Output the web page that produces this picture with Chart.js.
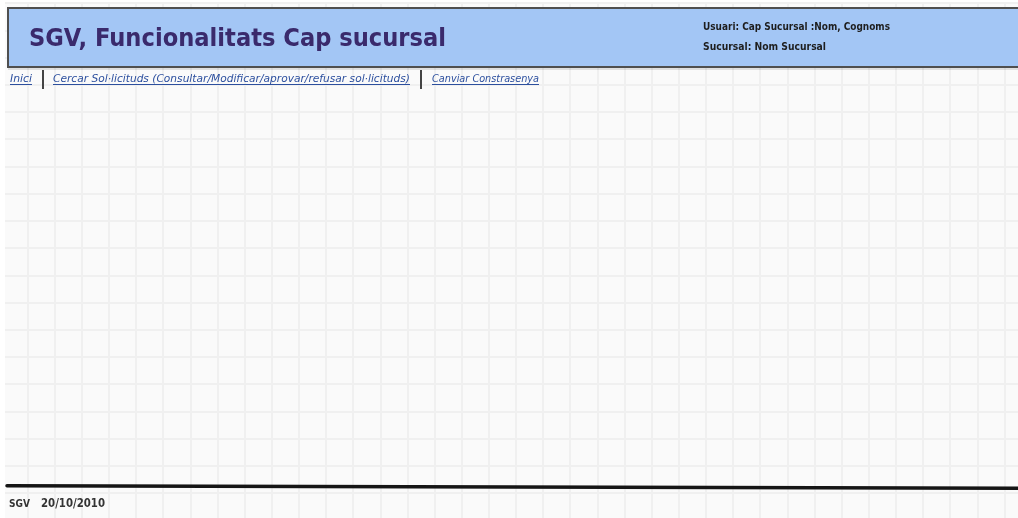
<!DOCTYPE html>
<html><head><meta charset="utf-8">
<script src="https://cdn.jsdelivr.net/npm/chart.js@4.4.0/dist/chart.umd.min.js"></script>
<style>html,body{margin:0;padding:0;background:#fff;overflow:hidden}#wrap{width:1018px;height:518px;position:relative}canvas{display:block}</style>
</head><body><div id="wrap"><canvas id="c" width="1018" height="518"></canvas></div>
<script>
// ---- content (text of the wireframe) ----
const pageTitle = 'SGV, Funcionalitats Cap sucursal';
const userInfo = ['Usuari: Cap Sucursal :Nom, Cognoms', 'Sucursal: Nom Sucursal'];
const navLinks = ['Inici', 'Cercar Sol·licituds (Consultar/Modificar/aprovar/refusar sol·licituds)', 'Canviar Constrasenya'];
const footerApp = 'SGV';
const footerDate = '20/10/2010';
// grid extent in cell units (columns / rows of the sketch paper)
const gridColumnsRange = [-0.8364, 36.49];
const gridRowsRange = [-4.018, 14.915];

function fitText(ctx, text, x, y, w) {
  const m = ctx.measureText(text).width;
  ctx.save();
  ctx.translate(x, y);
  ctx.scale(w / m, 1);
  ctx.fillText(text, 0, 0);
  ctx.restore();
}

const mockup = {
  id: 'mockup',
  beforeDraw(chart) {
    const {ctx, chartArea: a} = chart;
    ctx.save();
    ctx.fillStyle = '#ffffff';
    ctx.fillRect(0, 0, chart.width, chart.height);
    ctx.fillStyle = '#fafafa';
    ctx.fillRect(a.left, a.top, a.right - a.left, a.bottom - a.top);
    ctx.restore();
  },
  afterDraw(chart) {
    const ctx = chart.ctx;
    ctx.save();
    // header box
    ctx.fillStyle = 'rgba(0,0,0,0.10)';
    ctx.fillRect(8, 68, 1020, 2);
    ctx.fillStyle = '#a3c6f5';
    ctx.fillRect(8, 8, 1020, 59);
    ctx.strokeStyle = '#4f4f4f';
    ctx.lineWidth = 2;
    ctx.strokeRect(8, 8, 1030, 59);
    // title
    ctx.fillStyle = '#3a2a6c';
    ctx.textBaseline = 'alphabetic';
    ctx.font = 'bold 25px "DejaVu Sans"';
    fitText(ctx, pageTitle, 29, 45.5, 417);
    // user info
    ctx.fillStyle = '#1e1e1e';
    ctx.font = 'bold 10px "DejaVu Sans"';
    fitText(ctx, userInfo[0], 703, 29.5, 187);
    fitText(ctx, userInfo[1], 703, 50, 123);
    // nav links
    const navX = [[10, 32], [53, 410], [432, 539]];
    ctx.font = 'italic 11px "DejaVu Sans"';
    ctx.fillStyle = '#2c4f9e';
    ctx.strokeStyle = '#2c4f9e';
    ctx.lineWidth = 1;
    navLinks.forEach((t, i) => {
      const [x0, x1] = navX[i];
      fitText(ctx, t, x0, 82.3, x1 - x0);
      ctx.beginPath();
      ctx.moveTo(x0, 84.5); ctx.lineTo(x1, 84.5);
      ctx.stroke();
    });
    ctx.strokeStyle = '#444';
    ctx.lineWidth = 2;
    [43, 421].forEach(x => {
      ctx.beginPath(); ctx.moveTo(x, 70); ctx.lineTo(x, 89); ctx.stroke();
    });
    // footer line
    ctx.strokeStyle = '#151515';
    ctx.lineWidth = 3.5;
    ctx.lineCap = 'round';
    ctx.beginPath();
    ctx.moveTo(7, 485.7); ctx.lineTo(1020, 488.3);
    ctx.stroke();
    // footer text
    ctx.fillStyle = '#333';
    ctx.font = 'bold 11px "DejaVu Sans"';
    fitText(ctx, footerApp, 9, 507.3, 21);
    ctx.font = 'bold 12px "DejaVu Sans"';
    fitText(ctx, footerDate, 41, 507.3, 64);
    ctx.restore();
  }
};

const gridOpts = { color: '#f0f0f0', lineWidth: 2, drawTicks: false };
new Chart(document.getElementById('c'), {
  type: 'scatter',
  data: { datasets: [{ data: [] }] },
  options: {
    responsive: false,
    animation: false,
    events: [],
    layout: { padding: { left: 5, top: 3, right: 0, bottom: 0 } },
    plugins: { legend: { display: false }, tooltip: { enabled: false }, title: { display: false } },
    scales: {
      x: {
        type: 'linear', min: gridColumnsRange[0], max: gridColumnsRange[1],
        ticks: { display: false, stepSize: 1, includeBounds: false, autoSkip: false },
        grid: gridOpts, border: { display: false },
        afterFit(s) { s.height = 0; }
      },
      y: {
        type: 'linear', reverse: true, min: gridRowsRange[0], max: gridRowsRange[1],
        ticks: { display: false, stepSize: 1, includeBounds: false, autoSkip: false },
        grid: gridOpts, border: { display: false },
        afterFit(s) { s.width = 0; }
      }
    }
  },
  plugins: [mockup]
});
</script>
</body></html>
